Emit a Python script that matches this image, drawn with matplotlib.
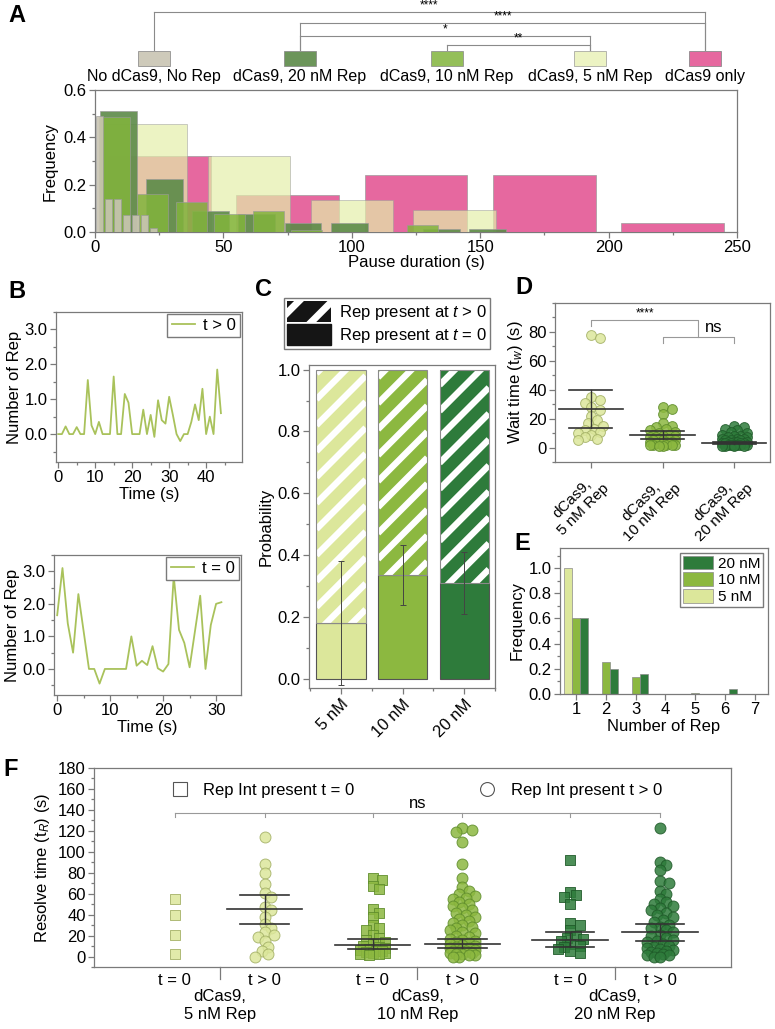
import numpy as np
import matplotlib
matplotlib.use('Agg')
import matplotlib.pyplot as plt
from matplotlib.patches import Rectangle, Patch
from matplotlib.lines import Line2D
from matplotlib.ticker import MultipleLocator, FormatStrFormatter

# ---------------- data ----------------
# A: pause duration histograms (bins start at 0)
hist_names = ['No dCas9, No Rep', 'dCas9, 20 nM Rep', 'dCas9, 10 nM Rep',
              'dCas9, 5 nM Rep', 'dCas9 only']
hist_binw = [3.5, 18, 15, 40, 50]
hist_heights = [
    [0.49, 0.14, 0.14, 0.07, 0.07, 0.07, 0.015],
    [0.51, 0.226, 0.089, 0.075, 0.037, 0.037, 0, 0.012, 0.012],
    [0.487, 0.16, 0.126, 0.074, 0.087, 0.01, 0, 0, 0.031],
    [0.456, 0.32, 0.134, 0.091],
    [0.32, 0.155, 0.24, 0.24, 0.04],
]
# significance brackets: (series i, series j, label)
hist_sig = [(0, 4, '****'), (1, 4, '****'), (1, 3, '*'), (2, 3, '**')]

# B: example traces
rep_tpos = [0, 0, 0.22, 0, 0, 0.2, 0, 0, 1.55, 0.25, 0, 0.35, 0, 0, 0,
            1.65, 0, 0, 1.15, 0.9, 0, 0, 0, 0.7, 0, 0.55, -0.08, 0.97, 0.4, 0.3,
            1.07, 0.55, 0, -0.2, 0, 0, 0.35, 0.85, 0.4, 1.3, 0, 0.5, 0, 1.85, 0.6]
rep_t0 = [1.65, 3.1, 1.4, 0.5, 2.3, 1.15, 0, 0, -0.45, 0, 0, 0, 0, 0, 1.0,
          0.1, 0.25, 0.12, 0.7, 0.02, -0.08, 0.15, 2.85, 1.2, 0.8, 0.05, 1.15,
          2.25, 0.0, 1.35, 2.0, 2.05]

# C: probability Rep present at t = 0
conc = ['5 nM', '10 nM', '20 nM']
p_t0 = [0.18, 0.335, 0.31]
p_t0_err = [0.2, 0.097, 0.1]

# D: wait times
wait_labels = ['dCas9,\n5 nM Rep', 'dCas9,\n10 nM Rep', 'dCas9,\n20 nM Rep']
wait_5 = [78, 76, 35, 33, 31, 28, 26, 22, 19, 17, 15, 13, 12, 11, 10, 9, 7, 6, 5]
wait_10 = [28, 27, 23, 17, 15, 14, 13, 12, 11, 10, 9, 9, 8, 8, 7, 7, 6, 6, 5, 5,
           5, 4, 4, 4, 3, 3, 3, 3, 2, 2, 2, 2, 2, 1, 1]
wait_20 = [15, 14, 13, 12, 11, 10, 9, 8, 8, 7, 7, 6, 6, 6, 5, 5, 5, 4, 4, 4, 4,
           3, 3, 3, 3, 3, 2, 2, 2, 2, 2, 2, 1, 1, 1, 1]
wait_mean = [26.7, 8.7, 3.0]
wait_lo = [13.6, 6.0, 2.5]
wait_hi = [39.5, 11.5, 3.5]

# E: number of Rep
n_rep = [1, 2, 3, 4, 5, 6, 7]
freq_5 = [1.0, 0, 0, 0, 0, 0, 0]
freq_10 = [0.6, 0.255, 0.135, 0, 0.01, 0, 0]
freq_20 = [0.605, 0.2, 0.16, 0, 0, 0.04, 0]

# F: resolve times
res_groups = ['dCas9,\n5 nM Rep', 'dCas9,\n10 nM Rep', 'dCas9,\n20 nM Rep']
res_5_t0 = [55, 40, 21, 2]
res_5_tp = [114, 88, 80, 69, 61, 57, 47, 44, 38, 31, 27, 23, 21, 19, 15, 9, 5, 2, 0]
res_10_t0 = [75, 73, 67, 64, 45, 42, 38, 30, 27, 25, 21, 18, 16, 14, 12, 10, 9,
             8, 7, 6, 5, 5, 4, 3, 3, 2, 2, 1]
res_10_tp = [123, 121, 119, 109, 88, 75, 66, 63, 60, 58, 56, 55, 52, 50, 48, 46,
             44, 42, 40, 38, 36, 34, 32, 30, 28, 27, 25, 23, 22, 20, 19, 17, 16,
             15, 14, 13, 12, 11, 10, 9, 8, 8, 7, 6, 5, 5, 4, 3, 3, 2, 2, 1, 1, 0, 0]
res_20_t0 = [92, 62, 59, 57, 50, 32, 30, 25, 20, 18, 17, 15, 12, 10, 9, 7, 5, 3]
res_20_tp = [123, 90, 87, 83, 72, 70, 63, 60, 55, 52, 50, 48, 46, 44, 42, 40, 38,
             35, 33, 30, 28, 27, 25, 23, 21, 20, 18, 16, 15, 14, 12, 10, 9, 8, 7,
             6, 5, 4, 3, 2, 1, 1, 0, 0]
res_mean = [np.nan, 45, 11, 12.4, 16, 23]
res_lo = [np.nan, 31.4, 7, 8.3, 9.5, 15]
res_hi = [np.nan, 58.4, 17, 17, 23.5, 31]

# ---------------- style ----------------
plt.rcParams['font.family'] = ['Liberation Sans', 'DejaVu Sans']
plt.rcParams['mathtext.fontset'] = 'custom'
plt.rcParams['mathtext.rm'] = 'Liberation Sans'
plt.rcParams['mathtext.it'] = 'Liberation Sans:italic'
plt.rcParams['hatch.linewidth'] = 5
plt.rcParams['font.size'] = 12

W, H = 775, 1029
GRAY = '#7a7a7a'
c_hist = ['#c9c5b3', '#5c8a48', '#82b43c', '#e4efaa', '#e5609a']
a_hist = [0.9, 0.9, 0.85, 0.7, 0.95]
z_hist = [7, 5, 6, 4, 3]   # pink at the back, grey in front
c_conc = ['#dce79b', '#8cb840', '#2e7b3b']
e_conc = ['#a3b065', '#5f8d2c', '#1f5a29']

fig = plt.figure(figsize=(W / 100, H / 100), dpi=100)


def px_axes(l, t, r, b):
    return fig.add_axes([l / W, 1 - b / H, (r - l) / W, (b - t) / H])


def style(ax):
    for s in ax.spines.values():
        s.set_color(GRAY)
        s.set_linewidth(0.9)
    ax.tick_params(which='both', direction='out', color=GRAY, width=0.9,
                   top=False, right=False)
    ax.tick_params(which='major', length=4, pad=2)
    ax.tick_params(which='minor', length=2.5)


def swarm(values, xscale, yscale, diam, max_off):
    # simple beeswarm offsets (in x data units)
    step = diam * 0.45
    cands = [0.0]
    k = 1
    while k * step <= max_off:
        cands += [k * step, -k * step]
        k += 1
    placed = []
    offs = []
    for v in values:
        y = v * yscale
        best, best_d = 0.0, -1
        for c in cands:
            d = min((np.hypot(c - px, y - py) for px, py in placed), default=1e9)
            if d >= diam:
                best = c
                break
            if d > best_d:
                best, best_d = c, d
        placed.append((best, y))
        offs.append(best / xscale)
    return np.array(offs)


# ---------------- A ----------------
ax = px_axes(95, 90, 737, 232)
style(ax)
for i in range(len(hist_names)):
    h = np.array(hist_heights[i])
    centers = hist_binw[i] * (np.arange(len(h)) + 0.5)
    ax.bar(centers, h, width=hist_binw[i] * 0.8, color=c_hist[i], alpha=a_hist[i],
           edgecolor='#9a9a9a', linewidth=0.5, zorder=z_hist[i])
ax.set_xlim(0, 250)
ax.set_ylim(0, 0.6)
ax.set_yticks([0, 0.2, 0.4, 0.6])
ax.yaxis.set_major_formatter(FormatStrFormatter('%.1f'))
ax.yaxis.set_minor_locator(MultipleLocator(0.1))
ax.xaxis.set_minor_locator(MultipleLocator(25))
ax.set_xlabel('Pause duration (s)', labelpad=0)
ax.set_ylabel('Frequency', labelpad=4)

# legend boxes and brackets for A (figure pixel overlay)
ov = fig.add_axes([0, 0, 1, 1], facecolor='none')
ov.set_xlim(0, W)
ov.set_ylim(H, 0)
ov.axis('off')
leg_x = [154, 300, 447, 590, 705]
for i, name in enumerate(hist_names):
    ov.add_patch(Rectangle((leg_x[i] - 16, 51), 32, 15, facecolor=c_hist[i],
                           alpha=a_hist[i], edgecolor='#888888', linewidth=0.6))
    ov.text(leg_x[i], 77, name, ha='center', va='center', fontsize=11.5)
sig_y = [12, 23, 36, 45]
for (i, j, lab), y in zip(hist_sig, sig_y):
    ov.plot([leg_x[i], leg_x[j]], [y, y], color='#8a8a8a', lw=0.8)
    ov.plot([leg_x[i], leg_x[i]], [y, 50], color='#8a8a8a', lw=0.8)
    ov.plot([leg_x[j], leg_x[j]], [y, 50], color='#8a8a8a', lw=0.8)
    ov.text((leg_x[i] + leg_x[j]) / 2, y - 1, lab, ha='center', va='bottom',
            fontsize=8.5)

# ---------------- B ----------------
for (l, t, r, b), trace, lab, xmax in [((56, 312, 242, 462), rep_tpos, 't > 0', 49.7),
                                       ((54, 555, 241, 695), rep_t0, 't = 0', 34.7)]:
    ax = px_axes(l, t, r, b)
    style(ax)
    ax.plot(np.arange(len(trace)), trace, color='#a9c25b', lw=1.3, label=lab)
    ax.set_xlim(-0.6, xmax)
    ax.set_ylim(-0.8, 3.5)
    ax.set_yticks([0, 1, 2, 3])
    ax.yaxis.set_major_formatter(FormatStrFormatter('%.1f'))
    ax.yaxis.set_minor_locator(MultipleLocator(0.5))
    ax.xaxis.set_major_locator(MultipleLocator(10))
    ax.xaxis.set_minor_locator(MultipleLocator(5))
    ax.set_xlabel('Time (s)', labelpad=1)
    ax.set_ylabel('Number of Rep', labelpad=2)
    lg = ax.legend(loc='upper right', handlelength=1.4, fancybox=False,
                   borderpad=0.25, handletextpad=0.5, borderaxespad=0.1,
                   framealpha=1)
    lg.get_frame().set_edgecolor(GRAY)

# ---------------- C ----------------
ax = px_axes(309, 365, 495, 688)
style(ax)
xc = np.arange(len(conc))
ax.bar(xc, p_t0, width=0.8, color=c_conc, edgecolor='#555555', linewidth=0.8, zorder=2)
top = 1 - np.array(p_t0)
upper = ax.bar(xc, top, bottom=p_t0, width=0.8, color=c_conc, linewidth=0, zorder=2)
# white diagonal stripes clipped to the upper bars
slope = 0.2      # 45 deg on screen for this axes aspect
period = 0.084   # ~26 px vertical stripe period
for i, bar in enumerate(upper):
    x0 = xc[i] - 0.4
    xs = np.array([x0, x0 + 0.8])
    for c in np.arange(-0.2, 1.0, period):
        ln, = ax.plot(xs, p_t0[i] + c + (xs - x0) * slope, color='white', lw=4.6,
                      solid_capstyle='butt', zorder=2.5)
        ln.set_clip_path(bar)
ax.bar(xc, top, bottom=p_t0, width=0.8, fill=False, edgecolor='#8a8a8a',
       linewidth=0.8, zorder=3)
ax.errorbar(xc, p_t0, yerr=p_t0_err, fmt='none', ecolor='#444444', elinewidth=0.7,
            capsize=2, capthick=0.7, zorder=4)
ax.set_xlim(-0.52, 2.5)
ax.set_ylim(-0.03, 1.015)
ax.set_xticks(xc, conc, rotation=45, ha='right', rotation_mode='anchor')
ax.xaxis.set_minor_locator(MultipleLocator(0.5))
ax.set_yticks(np.arange(0, 1.01, 0.2))
ax.yaxis.set_major_formatter(FormatStrFormatter('%.1f'))
ax.yaxis.set_minor_locator(MultipleLocator(0.1))
ax.set_ylabel('Probability', labelpad=3)
hh = [Patch(facecolor='#151515', edgecolor='white', hatch='/', linewidth=0),
      Patch(facecolor='#151515', edgecolor='#151515')]
lg = fig.legend(hh, [r'Rep present at $t$ > 0', r'Rep present at $t$ = 0'],
                loc='upper left', bbox_to_anchor=(284 / W, 1 - 298 / H),
                fancybox=False, handlelength=2.6, handleheight=1.5,
                borderpad=0.2, labelspacing=0.15, handletextpad=0.5,
                borderaxespad=0, framealpha=1)
lg.get_frame().set_edgecolor(GRAY)

# ---------------- D ----------------
ax = px_axes(555, 303, 770, 462)
style(ax)
ax.set_xlim(-0.5, 2.5)
ax.set_ylim(-10, 100)
xs_px = (770 - 555) / 3.0
ys_px = (462 - 303) / 110.0
for i, vals in enumerate([wait_5, wait_10, wait_20]):
    off = swarm(vals, xs_px, ys_px, 7, 13)
    ax.scatter(i + off, vals, s=50, color=c_conc[i], edgecolors=e_conc[i],
               linewidths=0.7, alpha=0.85, zorder=3)
    ax.plot([i - 0.45, i + 0.45], [wait_mean[i]] * 2, color='#333333', lw=1.2, zorder=4)
    ax.plot([i - 0.3, i + 0.3], [wait_lo[i]] * 2, color='#333333', lw=1.2, zorder=4)
    ax.plot([i - 0.3, i + 0.3], [wait_hi[i]] * 2, color='#333333', lw=1.2, zorder=4)
    ax.plot([i, i], [wait_lo[i], wait_hi[i]], color='#333333', lw=1.0, zorder=4)
bc = '#999999'
ax.plot([0, 0, 1.5, 1.5], [84, 88, 88, 76.5], color=bc, lw=0.8)
ax.plot([1, 1, 2, 2], [72.5, 76.5, 76.5, 72.5], color=bc, lw=0.8)
ax.text(0.75, 88.5, '****', ha='center', va='bottom', fontsize=8.5)
ax.text(1.72, 78, 'ns', ha='center', va='bottom', fontsize=12)
ax.set_xticks([0, 1, 2], wait_labels, rotation=45, ha='right',
              rotation_mode='anchor', multialignment='center', fontsize=11)
ax.set_yticks([0, 20, 40, 60, 80])
ax.yaxis.set_minor_locator(MultipleLocator(10))
ax.set_ylabel('Wait time (t$_w$) (s)', labelpad=2)

# ---------------- E ----------------
ax = px_axes(560, 548, 768, 694)
style(ax)
n = np.array(n_rep)
bw = 0.27
for k, (vals, lab) in enumerate([(freq_5, '5 nM'), (freq_10, '10 nM'), (freq_20, '20 nM')]):
    ax.bar(n + (k - 1) * bw, vals, width=bw, color=c_conc[k], edgecolor='#8a8a8a',
           linewidth=0.5, label=lab)
ax.set_xlim(0.45, 7.45)
ax.set_ylim(0, 1.16)
ax.set_xticks(n_rep)
ax.set_yticks(np.arange(0, 1.01, 0.2))
ax.yaxis.set_major_formatter(FormatStrFormatter('%.1f'))
ax.yaxis.set_minor_locator(MultipleLocator(0.1))
ax.set_xlabel('Number of Rep', labelpad=1)
ax.set_ylabel('Frequency', labelpad=3)
hd, lb = ax.get_legend_handles_labels()
lg = ax.legend(hd[::-1], lb[::-1], loc='upper right', fancybox=False,
               handlelength=2.0, handleheight=1.0, borderpad=0.2,
               labelspacing=0.1, handletextpad=0.3, borderaxespad=0.3,
               fontsize=11, framealpha=1)
lg.get_frame().set_edgecolor(GRAY)

# ---------------- F ----------------
ax = px_axes(94, 768, 731, 967)
style(ax)
pos = [1, 2, 3.2, 4.2, 5.4, 6.4]
ax.set_xlim(0.1, 7.19)
ax.set_ylim(-10, 180)
xs_px = (731 - 94) / 7.09
ys_px = (967 - 768) / 190.0
sets = [res_5_t0, res_5_tp, res_10_t0, res_10_tp, res_20_t0, res_20_tp]
for i, vals in enumerate(sets):
    g = i // 2
    mk = 's' if i % 2 == 0 else 'o'
    off = swarm(vals, xs_px, ys_px, 7, 13)
    ax.scatter(pos[i] + off, vals, s=55 if mk == 's' else 62, marker=mk,
               color=c_conc[g], edgecolors=e_conc[g], linewidths=0.7,
               alpha=0.85, zorder=3)
    if not np.isnan(res_mean[i]):
        ax.plot([pos[i] - 0.42, pos[i] + 0.42], [res_mean[i]] * 2, color='#333333',
                lw=1.2, zorder=4)
        for yv in (res_lo[i], res_hi[i]):
            ax.plot([pos[i] - 0.27, pos[i] + 0.27], [yv, yv], color='#333333',
                    lw=1.2, zorder=4)
        ax.plot([pos[i]] * 2, [res_lo[i], res_hi[i]], color='#333333', lw=1.0, zorder=4)
ax.plot([pos[0], pos[-1]], [137, 137], color=bc, lw=0.8)
for p in pos:
    ax.plot([p, p], [137, 133], color=bc, lw=0.8)
ax.text((pos[0] + pos[-1]) / 2, 139, 'ns', ha='center', va='bottom', fontsize=12)
ax.set_xticks(pos, ['t = 0', 't > 0'] * 3)
ax.tick_params(axis='x', length=0, pad=4)
ax.set_yticks(np.arange(0, 181, 20))
ax.yaxis.set_minor_locator(MultipleLocator(10))
ax.set_ylabel('Resolve time (t$_R$) (s)', labelpad=4)
for g, lab in enumerate(res_groups):
    xm = (pos[2 * g] + pos[2 * g + 1]) / 2
    ax.annotate(lab, xy=(xm, 0), xycoords=('data', 'axes fraction'),
                xytext=(0, -16), textcoords='offset points', ha='center',
                va='top', multialignment='center')
    ax.plot([xm, xm], [0, -0.06], transform=ax.get_xaxis_transform(),
            color=GRAY, lw=0.9, clip_on=False)
fh = [Line2D([], [], marker='s', ls='none', mfc='white', mec='#555555', ms=10, mew=0.8),
      Line2D([], [], marker='o', ls='none', mfc='white', mec='#555555', ms=10, mew=0.8)]
ax.legend(fh, ['Rep Int present t = 0', 'Rep Int present t > 0'], ncol=2,
          loc='upper center', bbox_to_anchor=(0.5, 1.0), frameon=False,
          columnspacing=7, handletextpad=0.4)

# panel letters
for lab, x, y in [('A', 8, 15), ('B', 8, 291), ('C', 255, 290), ('D', 515, 288),
                  ('E', 514, 543), ('F', 3, 770)]:
    fig.text(x / W, 1 - y / H, lab, fontsize=17, fontweight='bold', va='center',
             ha='left')

fig.savefig('out.png', dpi=100)
